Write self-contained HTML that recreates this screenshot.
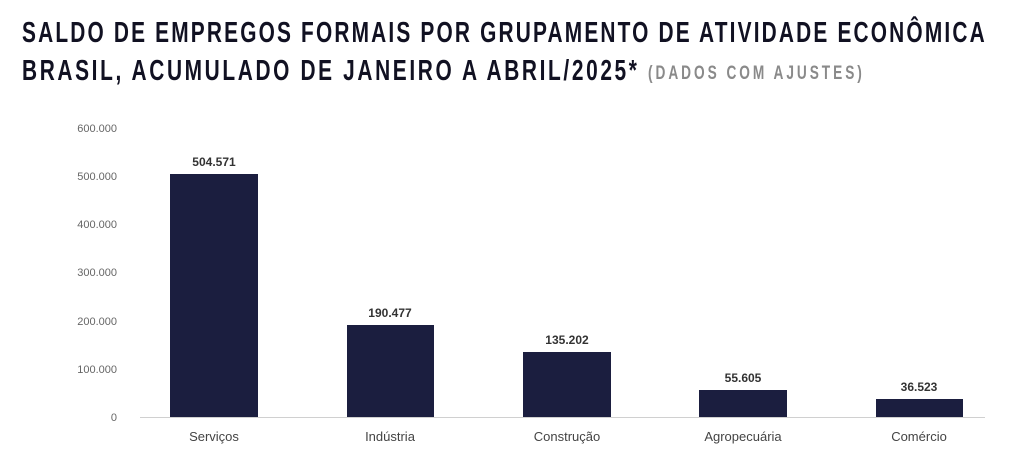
<!DOCTYPE html>
<html><head><meta charset="utf-8"><style>body{margin:0;background:#fff}svg{display:block}</style></head><body>
<svg width="1014" height="450" xmlns="http://www.w3.org/2000/svg" font-family="Liberation Sans, sans-serif">
<g transform="scale(0.72,1)">
<text x="30.6" y="42" font-size="29" font-weight="bold" fill="#111122" textLength="1337" lengthAdjust="spacing">SALDO DE EMPREGOS FORMAIS POR GRUPAMENTO DE ATIVIDADE ECONÔMICA</text>
<text x="30.6" y="80" font-size="29" font-weight="bold" fill="#111122" textLength="854" lengthAdjust="spacing">BRASIL, ACUMULADO DE JANEIRO A ABRIL/2025*</text>
<text x="900" y="79" font-size="19" font-weight="bold" fill="#8a8a8a" textLength="297" lengthAdjust="spacing">(DADOS COM AJUSTES)</text>
</g>
<g font-size="11" fill="#666" text-anchor="end">
<text x="117" y="132">600.000</text>
<text x="117" y="180">500.000</text>
<text x="117" y="228">400.000</text>
<text x="117" y="276">300.000</text>
<text x="117" y="325">200.000</text>
<text x="117" y="373">100.000</text>
<text x="117" y="421">0</text>
</g>
<line x1="140" y1="417.5" x2="985" y2="417.5" stroke="#d0d0d0" stroke-width="1"/>
<g fill="#1b1e3f">
<rect x="170" y="174" width="88" height="243"/>
<rect x="347" y="325" width="87" height="92"/>
<rect x="523" y="352" width="88" height="65"/>
<rect x="699" y="390" width="88" height="27"/>
<rect x="876" y="399" width="87" height="18"/>
</g>
<g font-size="12" font-weight="bold" fill="#333" text-anchor="middle">
<text x="214" y="166">504.571</text>
<text x="390" y="317">190.477</text>
<text x="567" y="344">135.202</text>
<text x="743" y="382">55.605</text>
<text x="919" y="391">36.523</text>
</g>
<g font-size="13" fill="#444" text-anchor="middle">
<text x="214" y="441">Serviços</text>
<text x="390" y="441">Indústria</text>
<text x="567" y="441">Construção</text>
<text x="743" y="441">Agropecuária</text>
<text x="919" y="441">Comércio</text>
</g>
</svg>
</body></html>
